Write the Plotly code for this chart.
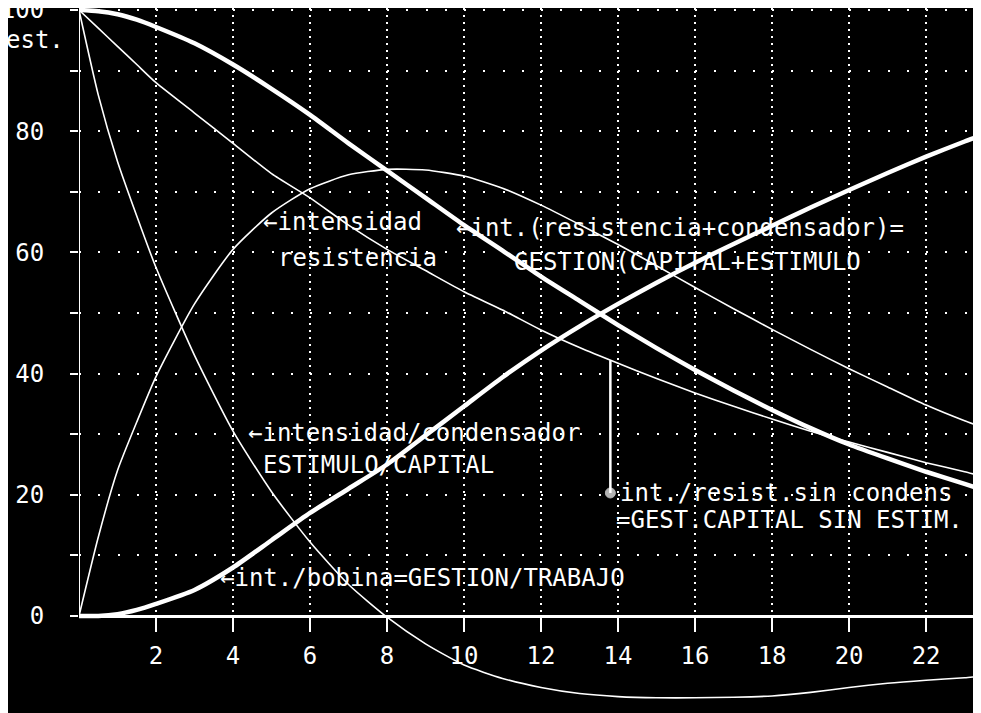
import plotly.graph_objects as go

# ---------------- data ----------------
X = [0, 0.5, 1, 1.5, 2, 3, 4, 5, 6, 7, 8, 9, 10, 11, 12, 13, 14, 15,
     16, 17, 18, 19, 20, 21, 22, 23, 23.3]

# int.(resistencia+condensador) = GESTION(CAPITAL+ESTIMULO)   (thick)
res_mas_cond = [100, 99.8, 99.3, 98.4, 97.2, 94.5, 91, 87, 82.7, 78, 73.5, 69,
                64.5, 60.3, 56, 52, 48, 44.2, 40.6, 37.2, 34, 31, 28.3, 26,
                23.8, 21.8, 21.2]
# int./resist.sin condens = GEST.CAPITAL SIN ESTIM.   (thin)
res_sin_cond = [100, 97, 94, 91, 88, 83, 78, 73, 69, 64.5, 60.5, 57, 53.5,
                50.5, 47.2, 44.3, 41.7, 39.2, 36.8, 34.6, 32.5, 30.5, 28.7,
                27, 25.3, 23.8, 23.3]
# intensidad resistencia   (thin hump)
int_resistencia = [0, 13, 24, 32, 39.5, 51.5, 60.5, 66.5, 70.5, 72.8, 73.7,
                   73.6, 72.6, 70.6, 67.8, 64.6, 61.3, 57.8, 54.2, 50.7, 47.3,
                   44, 40.8, 37.8, 34.8, 32.2, 31.5]
# intensidad condensador = ESTIMULO/CAPITAL   (thin)
int_condensador = [100, 86, 75, 66, 57.5, 43, 30.5, 20.5, 12.2, 5.2, -0.2,
                   -4.6, -8.1, -10.3, -11.8, -12.8, -13.3, -13.5, -13.5, -13.4,
                   -13.2, -12.6, -11.8, -11.1, -10.6, -10.2, -10]
# int./bobina = GESTION/TRABAJO   (thick)
int_bobina = [0, 0, 0.3, 1, 2, 4.3, 8, 12.5, 17, 21, 25, 29.8, 34.6, 39.4,
              43.8, 47.8, 51.5, 55, 58.3, 61.4, 64.4, 67.4, 70.3, 73.1, 75.8,
              78.3, 79]

X_TICKS = [2, 4, 6, 8, 10, 12, 14, 16, 18, 20, 22]
X_TICK_LABELS = [str(v) for v in X_TICKS]
Y_TICKS = [0, 10, 20, 30, 40, 50, 60, 70, 80, 90, 100]
Y_TICK_LABELS = ["0", "", "20", "", "40", "", "60", "", "80", "", "100"]

X_RANGE = [0, 23.27]
Y_RANGE = [-17.33, 100.33]

# pointer from the "sin condens" label to its curve
POINTER_X = [13.8, 13.8]
POINTER_Y = [20.3, 42.2]

FONT = "DejaVu Sans Mono"
W = "#ffffff"

fig = go.Figure()

for ys, width in [(int_resistencia, 1.6), (int_condensador, 1.6),
                  (res_sin_cond, 1.6), (res_mas_cond, 4.5), (int_bobina, 4.5)]:
    fig.add_trace(go.Scatter(x=X, y=ys, mode="lines",
                             line=dict(color=W, width=width, shape="spline",
                                       smoothing=0.6),
                             hoverinfo="skip", showlegend=False))

fig.add_trace(go.Scatter(x=POINTER_X, y=POINTER_Y, mode="lines+markers",
                         line=dict(color=W, width=2.5),
                         marker=dict(color=W, size=[10, 0]),
                         hoverinfo="skip", showlegend=False))

labels = [
    ("\u2190intensidad", 4.83, 65.0),
    ("resistencia", 5.22, 59.1),
    ("\u2190int.(resistencia+condensador)=", 9.84, 64.0),
    ("GESTION(CAPITAL+ESTIMULO", 11.35, 58.4),
    ("\u2190intensidad/condensador", 4.44, 30.2),
    ("ESTIMULO/CAPITAL", 4.83, 24.9),
    ("int./resist.sin condens", 14.1, 20.3),
    ("=GEST.CAPITAL SIN ESTIM.", 14.0, 15.8),
    ("\u2190int./bobina=GESTION/TRABAJO", 3.71, 6.3),
]
for txt, lx, ly in labels:
    fig.add_annotation(x=lx, y=ly, xref="x", yref="y", text=txt,
                       showarrow=False, xanchor="left", yanchor="middle",
                       xshift=-4,
                       font=dict(family=FONT, size=24, color=W))

fig.add_annotation(x=-0.079, y=95.0, xref="paper", yref="y", text="est.",
                   showarrow=False, xanchor="left", yanchor="middle",
                   xshift=-4,
                   font=dict(family=FONT, size=24, color=W))

# hide grid below the zero line
fig.add_shape(type="rect", xref="x", yref="y", x0=X_RANGE[0], x1=X_RANGE[1],
              y0=Y_RANGE[0], y1=0, fillcolor="black", line_width=0,
              layer="between")
# y axis line only from 0 upward
fig.add_shape(type="line", xref="x", yref="y", x0=0, x1=0, y0=0,
              y1=Y_RANGE[1], line=dict(color=W, width=2), layer="above")
# right frame edge
fig.add_shape(type="line", xref="paper", yref="paper", x0=1.0025, x1=1.0025,
              y0=0, y1=1, line=dict(color=W, width=2.5), layer="above")

zero_pos = (0 - Y_RANGE[0]) / (Y_RANGE[1] - Y_RANGE[0])

fig.update_layout(
    width=981, height=713,
    margin=dict(l=71, r=14, t=0, b=0, autoexpand=False),
    paper_bgcolor="black", plot_bgcolor="black",
    font=dict(family=FONT, color=W, size=24),
    xaxis=dict(range=X_RANGE, tickvals=X_TICKS, ticktext=X_TICK_LABELS,
               anchor="free", position=zero_pos, automargin=False,
               showline=True, linecolor=W, linewidth=2.5,
               ticks="outside", ticklen=14, tickwidth=2, tickcolor=W,
               ticklabelstandoff=3, ticklabeloverflow="allow",
               showgrid=True, gridcolor=W, gridwidth=1.5,
               griddash="2px,5px", zeroline=False,
               tickfont=dict(family=FONT, size=24, color=W)),
    yaxis=dict(range=Y_RANGE, tickvals=Y_TICKS, ticktext=Y_TICK_LABELS,
               automargin=False, ticklabeloverflow="allow",
               showline=False, ticks="outside", ticklen=8, tickwidth=2,
               tickcolor=W, ticklabelstandoff=21,
               showgrid=True, gridcolor=W, gridwidth=1.5,
               griddash="2px,17.25px", zeroline=False,
               tickfont=dict(family=FONT, size=24, color=W)),
)

fig.write_html("out.html")
